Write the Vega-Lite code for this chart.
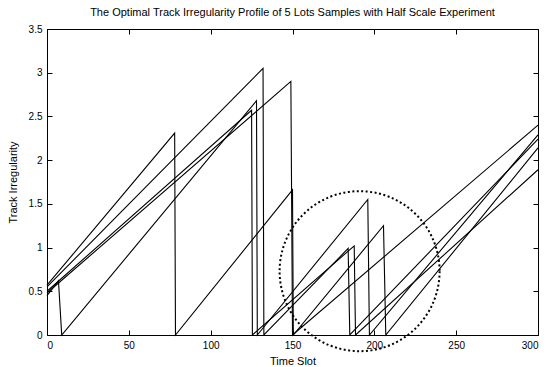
{
  "$schema": "https://vega.github.io/schema/vega-lite/v6.json",
  "width": 491,
  "height": 306,
  "autosize": {"type": "none"},
  "padding": {"left": 47, "top": 29, "right": 10, "bottom": 32},
  "background": "white",
  "title": {
    "text": "The Optimal Track Irregularity Profile of 5 Lots Samples with Half Scale Experiment",
    "font": "Liberation Sans",
    "fontSize": 11,
    "fontWeight": "normal",
    "color": "black",
    "anchor": "middle",
    "baseline": "alphabetic",
    "offset": -3
  },
  "config": {
    "view": {"stroke": "black", "strokeWidth": 1},
    "axis": {
      "domain": false,
      "grid": false,
      "tickColor": "black",
      "tickSize": -5,
      "labelPadding": 10,
      "labelFont": "Liberation Sans",
      "labelFontSize": 10,
      "labelColor": "black",
      "titleFont": "Liberation Sans",
      "titleFontSize": 11,
      "titleFontWeight": "normal",
      "titleColor": "black"
    }
  },
  "resolve": {"axis": {"x": "independent", "y": "independent"}},
  "layer": [
    {
      "data": {
        "values": [
          {"lot": "A", "x": 0, "y": 0.57},
          {"lot": "A", "x": 78, "y": 2.31},
          {"lot": "A", "x": 78.5, "y": 0},
          {"lot": "A", "x": 150, "y": 1.66},
          {"lot": "A", "x": 150.5, "y": 0},
          {"lot": "A", "x": 205.6, "y": 1.25},
          {"lot": "A", "x": 207, "y": 0},
          {"lot": "A", "x": 300, "y": 2.14},
          {"lot": "B", "x": 0, "y": 0.45},
          {"lot": "B", "x": 7, "y": 0.62},
          {"lot": "B", "x": 9, "y": 0},
          {"lot": "B", "x": 128, "y": 2.68},
          {"lot": "B", "x": 128.5, "y": 0},
          {"lot": "B", "x": 196, "y": 1.55},
          {"lot": "B", "x": 197, "y": 0},
          {"lot": "B", "x": 300, "y": 2.29},
          {"lot": "C", "x": 0, "y": 0.55},
          {"lot": "C", "x": 132, "y": 3.05},
          {"lot": "C", "x": 132.5, "y": 0},
          {"lot": "C", "x": 184, "y": 0.99},
          {"lot": "C", "x": 185, "y": 0},
          {"lot": "C", "x": 300, "y": 2.24},
          {"lot": "D", "x": 0, "y": 0.5},
          {"lot": "D", "x": 125, "y": 2.57},
          {"lot": "D", "x": 125.5, "y": 0},
          {"lot": "D", "x": 187.7, "y": 1.02},
          {"lot": "D", "x": 188.5, "y": 0},
          {"lot": "D", "x": 300, "y": 1.89},
          {"lot": "E", "x": 0, "y": 0.48},
          {"lot": "E", "x": 149, "y": 2.9},
          {"lot": "E", "x": 150, "y": 0},
          {"lot": "E", "x": 300, "y": 2.4}
        ]
      },
      "mark": {"type": "line", "color": "black", "strokeWidth": 1.1},
      "encoding": {
        "x": {
          "field": "x",
          "type": "quantitative",
          "scale": {"domain": [0, 300], "nice": false},
          "axis": {"orient": "bottom", "values": [0, 50, 100, 150, 200, 250, 300], "title": "Time Slot", "titlePadding": 5}
        },
        "y": {
          "field": "y",
          "type": "quantitative",
          "scale": {"domain": [0, 3.5], "nice": false},
          "axis": {"orient": "left", "values": [0, 0.5, 1, 1.5, 2, 2.5, 3, 3.5], "labelExpr": "'' + datum.value", "title": "Track Irregularity", "titlePadding": 10}
        },
        "detail": {"field": "lot"}
      }
    },
    {
      "data": {"values": [{"cx": 191, "cy": 0.73}]},
      "mark": {
        "type": "point",
        "shape": "circle",
        "size": 25600,
        "filled": false,
        "stroke": "black",
        "strokeWidth": 2,
        "strokeDash": [2, 2.5],
        "opacity": 1,
        "clip": false
      },
      "encoding": {
        "x": {
          "field": "cx",
          "type": "quantitative",
          "axis": {"orient": "top", "values": [0, 50, 100, 150, 200, 250, 300], "labels": false, "title": null}
        },
        "y": {
          "field": "cy",
          "type": "quantitative",
          "axis": {"orient": "right", "values": [0, 0.5, 1, 1.5, 2, 2.5, 3, 3.5], "labels": false, "title": null}
        }
      }
    }
  ]
}
